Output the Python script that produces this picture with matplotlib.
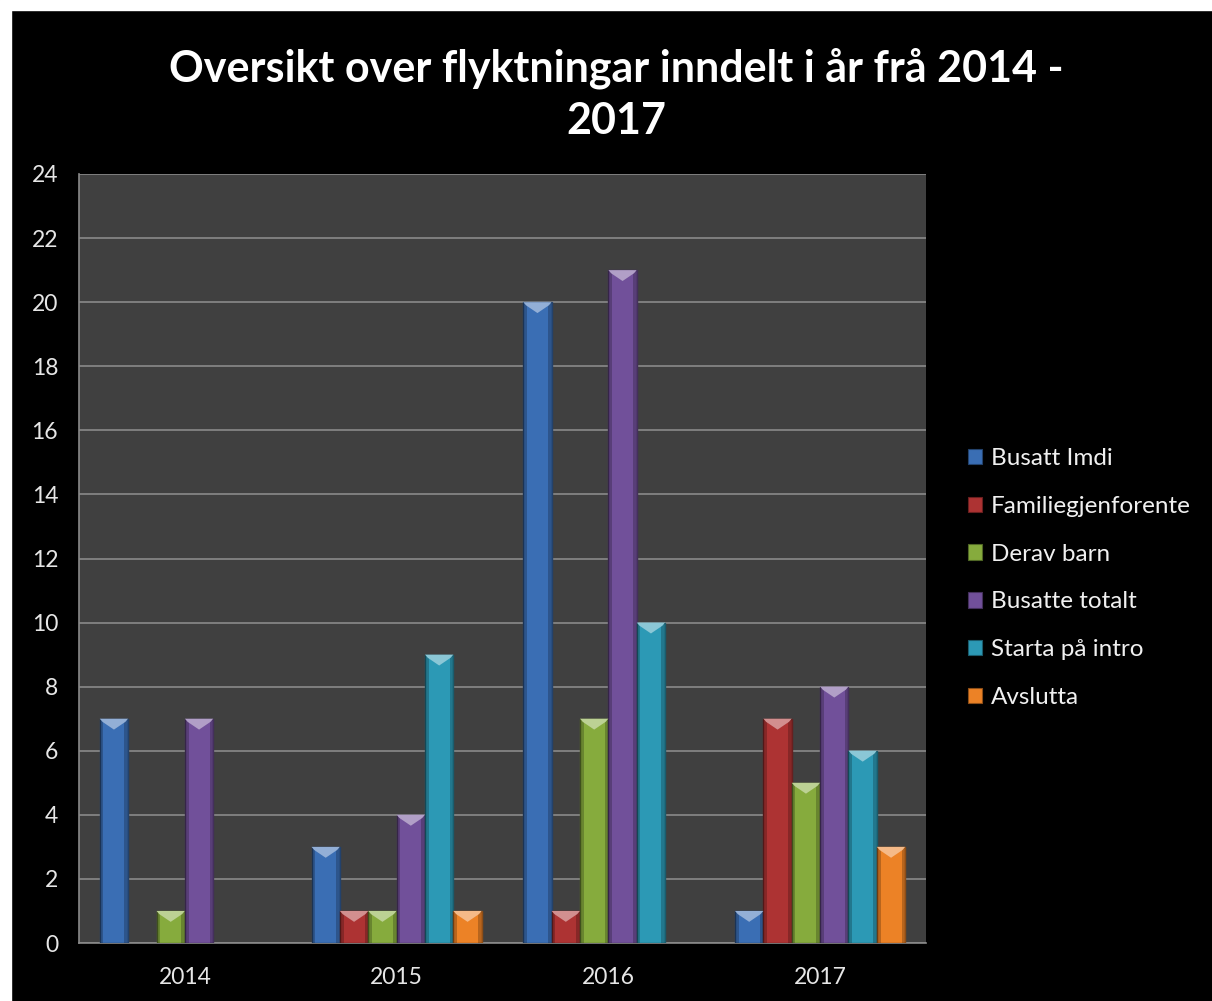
import numpy as np
import matplotlib
matplotlib.use("Agg")
import matplotlib.pyplot as plt
from matplotlib.patches import Rectangle, Polygon
from matplotlib.colors import to_rgb

plt.rcParams['font.family'] = ['Lato', 'DejaVu Sans']

years = ['2014', '2015', '2016', '2017']
series = ['Busatt Imdi', 'Familiegjenforente', 'Derav barn',
          'Busatte totalt', 'Starta på intro', 'Avslutta']
busatt_imdi = [7, 3, 20, 1]
familiegjenforente = [0, 1, 1, 7]
derav_barn = [1, 1, 7, 5]
busatte_totalt = [7, 4, 21, 8]
starta_intro = [0, 9, 10, 6]
avslutta = [0, 1, 0, 3]
values = [busatt_imdi, familiegjenforente, derav_barn,
          busatte_totalt, starta_intro, avslutta]
colors = ['#3a6eb4', '#ad3333', '#86ab3d', '#71509a', '#2c99b5', '#ec8226']

fig = plt.figure(figsize=(12.12, 10.01), dpi=100, facecolor='black')
# white strips at top and left, as in the screenshot
fig.patches.append(Rectangle((0, 1 - 10 / 1001), 1, 10 / 1001,
                             transform=fig.transFigure, color='white', zorder=-1))
fig.patches.append(Rectangle((0, 0), 11 / 1212, 1,
                             transform=fig.transFigure, color='white', zorder=-1))

ax = fig.add_axes([79 / 1212, 1 - 943 / 1001, (926 - 79) / 1212, (943 - 174) / 1001])
ax.set_facecolor('#404040')

x = np.arange(len(years))
w = 0.134
handles = []
for i, (vals, c) in enumerate(zip(values, colors)):
    pos = x + (i - 2.5) * w
    dark = tuple(v * 0.6 for v in to_rgb(c))
    bars = ax.bar(pos, vals, width=w, color=c, edgecolor=dark,
                  linewidth=1.0, zorder=3)
    handles.append(Rectangle((0, 0), 1, 1, facecolor=c, edgecolor=dark, lw=0.8))
    light = tuple(min(1, v + (1 - v) * 0.45) for v in to_rgb(c))
    for b, p, v in zip(bars, pos, vals):
        if v == 0:
            b.set_linewidth(0)
            continue
        x0, x1 = p - w / 2, p + w / 2
        # darker side strips
        ax.add_patch(Rectangle((x0, 0), w * 0.13, v, color='black', alpha=0.22,
                               lw=0, zorder=4))
        ax.add_patch(Rectangle((x1 - w * 0.13, 0), w * 0.13, v, color='black',
                               alpha=0.22, lw=0, zorder=4))
        # light bevel at the top
        ax.add_patch(Polygon([(x0, v), (x1, v), (x1 - w * 0.1, v - 0.1),
                              (p, v - 0.34), (x0 + w * 0.1, v - 0.1)],
                             closed=True, color=light, lw=0, zorder=5))

ax.set_xlim(-0.5, 3.5)
ax.set_ylim(0, 24)
ax.set_yticks(range(0, 25, 2))
ax.set_xticks(x)
ax.set_xticklabels(years)
ax.tick_params(colors='#e6e6e6', labelsize=16.5, length=0)
ax.tick_params(axis='x', pad=17)
ax.tick_params(axis='y', pad=15)
ax.yaxis.grid(True, color='#8a8a8a', linewidth=1.2, zorder=1)
ax.set_axisbelow(True)
for s in ['top', 'right']:
    ax.spines[s].set_visible(False)
for s in ['left', 'bottom']:
    ax.spines[s].set_color('#8a8a8a')
    ax.spines[s].set_linewidth(1.2)

fig.text(616 / 1212, 1 - 94 / 1001,
         'Oversikt over flyktningar inndelt i år frå 2014 -\n2017',
         ha='center', va='center', color='white', fontsize=31,
         fontweight='bold', linespacing=1.35)

fig.legend(handles, series, loc='center left',
           bbox_to_anchor=(946 / 1212, 1 - 578 / 1001), frameon=False,
           fontsize=17.5, labelcolor='#f0f0f0', handlelength=0.6,
           handleheight=0.6, handletextpad=0.35, labelspacing=1.1)

fig.savefig('out.png', dpi=100, facecolor=fig.get_facecolor())
